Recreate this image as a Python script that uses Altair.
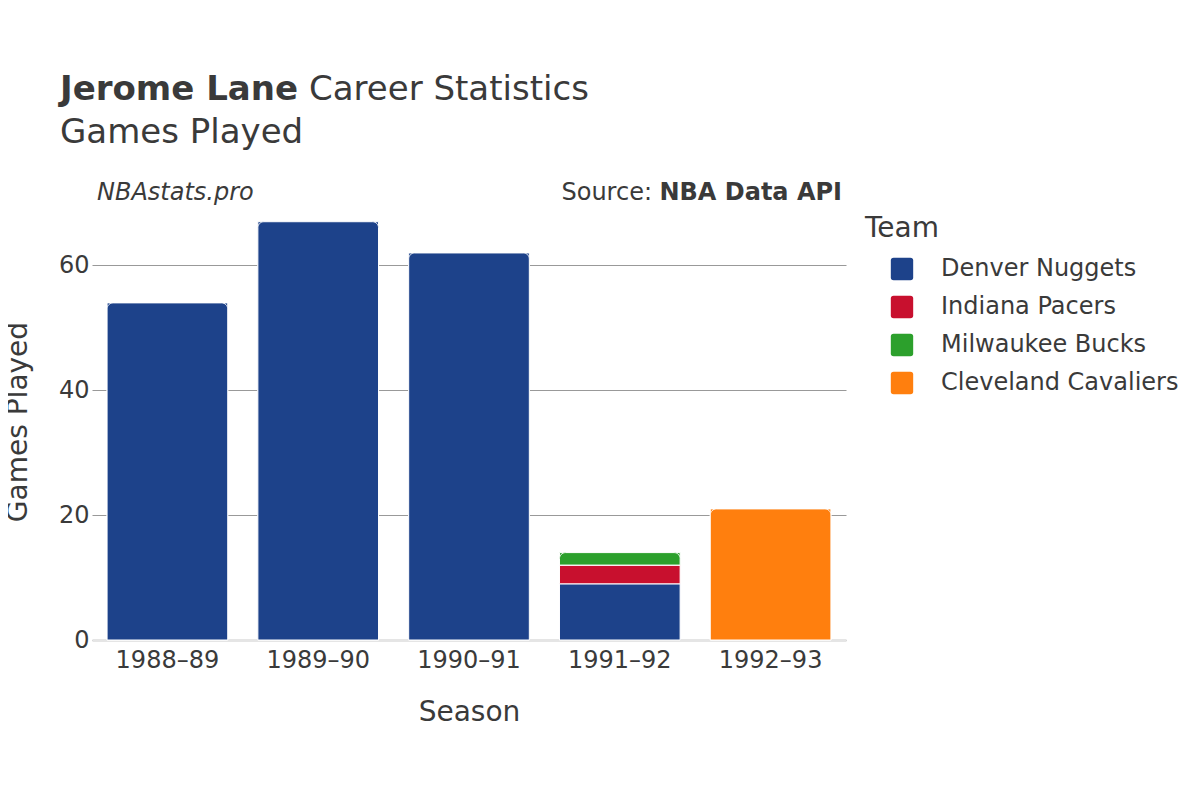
import altair as alt
import pandas as pd

seasons = ["1988–89", "1989–90", "1990–91", "1991–92", "1991–92", "1991–92", "1992–93"]
teams = ["Denver Nuggets", "Denver Nuggets", "Denver Nuggets", "Denver Nuggets",
         "Indiana Pacers", "Milwaukee Bucks", "Cleveland Cavaliers"]
games = [54, 67, 62, 9, 3, 2, 21]
order = [0, 0, 0, 0, 1, 2, 0]

team_names = ["Denver Nuggets", "Indiana Pacers", "Milwaukee Bucks", "Cleveland Cavaliers"]
team_colors = ["#1d428a", "#c8102e", "#2ca02c", "#ff7f0e"]
season_order = ["1988–89", "1989–90", "1990–91", "1991–92", "1992–93"]

df = pd.DataFrame({"Season": seasons, "Team": teams, "Games": games, "ord": order})

W, H = 754, 437
TXT = "#3a3a3a"
FONT = "DejaVu Sans"

rounded = "M -0.75,-1 H 0.75 Q 1,-1 1,-0.75 V 0.75 Q 1,1 0.75,1 H -0.75 Q -1,1 -1,0.75 V -0.75 Q -1,-1 -0.75,-1 Z"

x_enc = alt.X("Season:N", sort=season_order,
              scale=alt.Scale(paddingInner=0.2, paddingOuter=0.1),
              axis=alt.Axis(title="Season", labelAngle=0, labelFontSize=24, titleFontSize=28,
                            labelColor=TXT, titleColor=TXT, titlePadding=26, labelPadding=8,
                            ticks=False, domainColor="#e5e5e5", domainWidth=3,
                            labelFont=FONT, titleFont=FONT, titleFontWeight="normal"))
y_enc = alt.Y("y0:Q", scale=alt.Scale(domain=[0, 70], nice=False),
              axis=alt.Axis(title="Games Played", values=[0, 20, 40, 60], labelFontSize=24,
                            titleFontSize=28, labelColor=TXT, titleColor=TXT, gridColor="#999999",
                            gridWidth=1, domain=False, ticks=False, labelPadding=3,
                            titleX=-74, titleY=H / 2, titleAlign="center", titleBaseline="middle",
                            titleAngle=270,
                            labelFont=FONT, titleFont=FONT, titleFontWeight="normal"))
color_enc = alt.Color("Team:N", scale=alt.Scale(domain=team_names, range=team_colors),
                      legend=alt.Legend(title="Team", orient="none", legendX=773, legendY=12,
                                        titleFontSize=28, labelFontSize=24, titleColor=TXT,
                                        labelColor=TXT, symbolType=rounded, symbolSize=500,
                                        symbolStrokeWidth=0, symbolOpacity=1, rowPadding=14,
                                        symbolOffset=25,
                                        labelOffset=27, titlePadding=14, padding=0,
                                        labelFont=FONT, titleFont=FONT, titleFontWeight="normal",
                                        offset=0, labelLimit=400))

base = alt.Chart(df).transform_stack(
    stack="Games", groupby=["Season"], as_=["y0", "y1"], sort=[alt.SortField("ord")]
)

bars = base.mark_bar(stroke="white", strokeWidth=1).encode(
    x=x_enc, y=y_enc, y2="y1:Q", color=color_enc
)

tops = base.transform_joinaggregate(
    maxy="max(y1)", groupby=["Season"]
).transform_filter("datum.y1 == datum.maxy").mark_bar(
    cornerRadiusTopLeft=6, cornerRadiusTopRight=6, stroke="white", strokeWidth=1
).encode(x=alt.X("Season:N", sort=season_order), y="y0:Q", y2="y1:Q",
         color=alt.Color("Team:N", scale=alt.Scale(domain=team_names, range=team_colors), legend=None))

def txt(s, x, y, size, weight="normal", style="normal", align="left"):
    return alt.Chart(pd.DataFrame({"t": [s]})).mark_text(
        align=align, baseline="alphabetic", fontSize=size, fontWeight=weight, fontStyle=style,
        color=TXT, font=FONT, clip=False
    ).encode(text="t:N", x=alt.value(x), y=alt.value(y))

t1 = txt("Jerome Lane", -32, -103, 34, weight="bold")
t2 = txt("Career Statistics", 217, -103, 34)
t3 = txt("Games Played", -32, -60, 34)
a1 = txt("NBAstats.pro", 5, -3, 24, style="italic")
a2 = txt("NBA Data API", 750, -3, 24, weight="bold", align="right")
a3 = txt("Source:", 560, -3, 24, align="right")

chart = alt.layer(bars, tops, t1, t2, t3, a1, a2, a3).properties(
    width=W, height=H,
    autosize=alt.AutoSizeParams(type="none"),
    padding={"left": 84, "top": 195, "right": 340, "bottom": 150},
    background="white",
).configure_view(stroke=None)

chart.save("out.html", embed_options={"renderer": "svg", "actions": False})
